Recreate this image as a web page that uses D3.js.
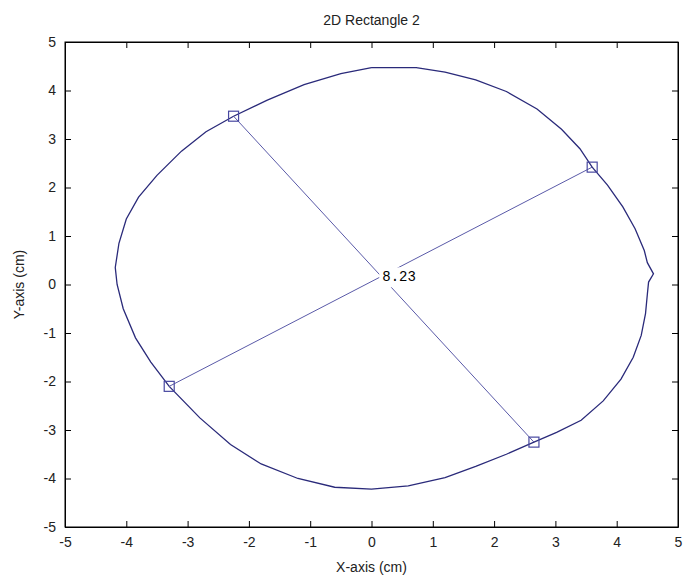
<!DOCTYPE html>
<html>
<head>
<meta charset="utf-8">
<script src="https://cdn.jsdelivr.net/npm/d3@7"></script>
<style>
  html, body { margin: 0; padding: 0; background: #fff; }
  svg { display: block; }
</style>
</head>
<body>
<svg id="chart" width="683" height="579"></svg>
<script>
// Outline of the measured shape (cm), traced clockwise from the top
const curveX = [0.0, 0.73, 1.2, 1.7, 2.2, 2.7, 3.1, 3.4, 3.6, 3.85, 4.1, 4.3, 4.45, 4.5, 4.6, 4.52, 4.5, 4.47, 4.4, 4.27, 4.07, 3.78, 3.42, 3.02, 2.65, 2.2, 1.7, 1.2, 0.6, 0.0, -0.6, -1.2, -1.8, -2.3, -2.8, -3.3, -3.6, -3.85, -4.05, -4.15, -4.18, -4.12, -4.0, -3.8, -3.5, -3.1, -2.7, -2.25, -1.7, -1.1, -0.5, 0.0];
const curveY = [4.47, 4.47, 4.38, 4.22, 3.98, 3.62, 3.2, 2.8, 2.42, 2.05, 1.6, 1.15, 0.7, 0.45, 0.22, 0.05, -0.2, -0.6, -1.05, -1.5, -1.95, -2.4, -2.8, -3.05, -3.25, -3.5, -3.75, -3.98, -4.15, -4.22, -4.18, -4.0, -3.7, -3.3, -2.75, -2.1, -1.6, -1.1, -0.5, 0.0, 0.35, 0.85, 1.35, 1.8, 2.25, 2.75, 3.15, 3.47, 3.8, 4.12, 4.35, 4.47];

// Endpoints of the two diameters (cm)
const diamStartX = [-2.25, 3.6];
const diamStartY = [3.47, 2.42];
const diamEndX = [2.65, -3.3];
const diamEndY = [-3.25, -2.1];

const diameterLabel = "8.23";
const chartTitle = "2D Rectangle 2";
const xTitle = "X-axis (cm)";
const yTitle = "Y-axis (cm)";
const xTicks = [-5, -4, -3, -2, -1, 0, 1, 2, 3, 4, 5];
const yTicks = [-5, -4, -3, -2, -1, 0, 1, 2, 3, 4, 5];

const sansFont = "'Liberation Sans', Arial, sans-serif";
const monoFont = "'Liberation Mono', 'DejaVu Sans Mono', monospace";

const margin = { left: 65, right: 5, top: 42, bottom: 52 };
const W = 683, H = 579;
const svg = d3.select("#chart");

const x = d3.scaleLinear().domain([-5, 5]).range([margin.left, W - margin.right]);
const y = d3.scaleLinear().domain([-5, 5]).range([H - margin.bottom, margin.top]);

const tickFont = 14;
const fmt = d => String(d);   // plain hyphen for negatives

// Axes: ticks point inward on all four sides, labels only bottom/left
const gx = svg.append("g").attr("transform", `translate(0,${y(-5)})`)
  .call(d3.axisBottom(x).tickValues(xTicks).tickFormat(fmt).tickSizeInner(-6).tickSizeOuter(0).tickPadding(10));
const gy = svg.append("g").attr("transform", `translate(${x(-5)},0)`)
  .call(d3.axisLeft(y).tickValues(yTicks).tickFormat(fmt).tickSizeInner(-6).tickSizeOuter(0).tickPadding(9));
const gt = svg.append("g").attr("transform", `translate(0,${y(5)})`)
  .call(d3.axisTop(x).tickValues(xTicks).tickSizeInner(-6).tickSizeOuter(0).tickFormat(""));
const gr = svg.append("g").attr("transform", `translate(${x(5)},0)`)
  .call(d3.axisRight(y).tickValues(yTicks).tickSizeInner(-6).tickSizeOuter(0).tickFormat(""));

[gx, gy, gt, gr].forEach(g => {
  g.attr("font-family", sansFont).attr("font-size", tickFont);
  g.select(".domain").attr("stroke", "#000");
  g.selectAll(".tick line").attr("stroke", "#000");
  g.selectAll(".tick text").attr("fill", "#222");
});

// Frame
svg.append("rect")
  .attr("x", x(-5)).attr("y", y(5))
  .attr("width", x(5) - x(-5)).attr("height", y(-5) - y(5))
  .attr("fill", "none").attr("stroke", "#000").attr("stroke-width", 1);

// Shape outline
const pts = curveX.map((v, i) => [v, curveY[i]]);
svg.append("path")
  .datum(pts)
  .attr("d", d3.line().x(d => x(d[0])).y(d => y(d[1])))
  .attr("fill", "none").attr("stroke", "#2a2a7a").attr("stroke-width", 1.3);

// Diameters
diamStartX.forEach((v, i) => {
  svg.append("line")
    .attr("x1", x(v)).attr("y1", y(diamStartY[i]))
    .attr("x2", x(diamEndX[i])).attr("y2", y(diamEndY[i]))
    .attr("stroke", "#5a5aa8").attr("stroke-width", 1);
});

// Square markers at each diameter end
const ends = [];
diamStartX.forEach((v, i) => {
  ends.push([v, diamStartY[i]]);
  ends.push([diamEndX[i], diamEndY[i]]);
});
svg.selectAll(".mk").data(ends).enter().append("rect")
  .attr("class", "mk")
  .attr("x", d => x(d[0]) - 5).attr("y", d => y(d[1]) - 5)
  .attr("width", 10).attr("height", 10)
  .attr("fill", "none").attr("stroke", "#4848a0").attr("stroke-width", 1.2);

// Label at the crossing of the two diameters
function crossing() {
  const [x1, y1, x2, y2] = [diamStartX[0], diamStartY[0], diamEndX[0], diamEndY[0]];
  const [x3, y3, x4, y4] = [diamStartX[1], diamStartY[1], diamEndX[1], diamEndY[1]];
  const den = (x1 - x2) * (y3 - y4) - (y1 - y2) * (x3 - x4);
  const a = x1 * y2 - y1 * x2, b = x3 * y4 - y3 * x4;
  return [(a * (x3 - x4) - (x1 - x2) * b) / den, (a * (y3 - y4) - (y1 - y2) * b) / den];
}
const c = crossing();
const lbl = svg.append("g").attr("transform", `translate(${x(c[0])},${y(c[1])})`);
const lt = lbl.append("text")
  .attr("x", 1).attr("y", 0).attr("dy", "0.35em")
  .attr("font-family", monoFont)
  .attr("font-size", 14).attr("fill", "#000")
  .text(diameterLabel);
const bb = lt.node().getBBox();
lbl.insert("rect", "text")
  .attr("x", bb.x - 3).attr("y", bb.y - 2)
  .attr("width", bb.width + 6).attr("height", bb.height + 4)
  .attr("fill", "#fff");

// Titles
svg.append("text").attr("x", (x(-5) + x(5)) / 2).attr("y", 25)
  .attr("text-anchor", "middle").attr("font-family", sansFont).attr("font-size", 14).attr("fill", "#222")
  .text(chartTitle);
svg.append("text").attr("x", (x(-5) + x(5)) / 2).attr("y", 572)
  .attr("text-anchor", "middle").attr("font-family", sansFont).attr("font-size", 14).attr("fill", "#222")
  .text(xTitle);
svg.append("text")
  .attr("transform", `translate(24,${(y(-5) + y(5)) / 2}) rotate(-90)`)
  .attr("text-anchor", "middle").attr("font-family", sansFont).attr("font-size", 14).attr("fill", "#222")
  .text(yTitle);
</script>
</body>
</html>
